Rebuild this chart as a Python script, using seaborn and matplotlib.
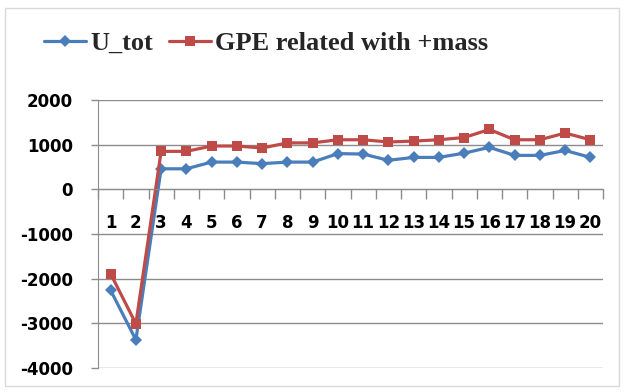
import matplotlib
matplotlib.use("Agg")
import matplotlib.pyplot as plt
from matplotlib.patches import Rectangle
import seaborn as sns
import pandas as pd

# ─────────────────────────────────────────────
# Data
# ─────────────────────────────────────────────
steps = list(range(1, 21))
u_tot = [-2260, -3370, 460, 460, 610, 610, 575, 610, 610, 800,
         790, 650, 715, 715, 810, 940, 760, 760, 870, 715]
gpe   = [-1890, -3010, 850, 850, 970, 970, 925, 1040, 1040, 1110,
         1110, 1060, 1080, 1110, 1160, 1340, 1110, 1110, 1260, 1110]
series_names = ["U_tot", "GPE related with +mass"]
y_ticks = [-4000, -3000, -2000, -1000, 0, 1000, 2000]

df = pd.DataFrame({
    "step":   steps * 2,
    "value":  u_tot + gpe,
    "series": [series_names[0]] * len(steps) + [series_names[1]] * len(steps),
})

BLUE = "#4A7EBB"
RED  = "#BE4B48"
GRID = "#8C8C8C"

sns.set_style("white", {"xtick.bottom": True, "ytick.left": True})
plt.rcParams["font.family"] = ["DejaVu Sans"]
plt.rcParams["font.weight"] = "bold"
plt.rcParams["xtick.color"] = GRID
plt.rcParams["ytick.color"] = GRID
plt.rcParams["xtick.labelcolor"] = "black"
plt.rcParams["ytick.labelcolor"] = "black"

fig = plt.figure(figsize=(6.25, 3.92), dpi=100)
ax = fig.add_axes([98/625, 1 - 368/392, 505/625, 268/392])

sns.lineplot(data=df, x="step", y="value", hue="series", style="series",
             palette={series_names[0]: BLUE, series_names[1]: RED},
             markers={series_names[0]: "D", series_names[1]: "s"},
             dashes=False, linewidth=2.3, markersize=7.5, markeredgewidth=0,
             ax=ax, legend="full")

# marker sizes per series
for line in ax.get_lines():
    if line.get_marker() == "s":
        line.set_markersize(7)
    elif line.get_marker() == "D":
        line.set_markersize(6.5)

for s in ["top", "right"]:
    ax.spines[s].set_visible(False)
ax.spines["left"].set_color(GRID)
ax.spines["bottom"].set_color(GRID)
ax.spines["bottom"].set_position(("data", 0))

ax.set_xlim(steps[0] - 0.5, steps[-1] + 0.5)
ax.set_ylim(y_ticks[0], y_ticks[-1])
ax.set_yticks(y_ticks)
ax.set_yticklabels([str(t) for t in y_ticks], fontsize=12, fontweight="bold")
ax.set_xticks(steps)
ax.set_xticklabels([str(s) for s in steps], fontsize=12, fontweight="bold")
ax.set_xticks([s - 0.5 for s in steps] + [steps[-1] + 0.5], minor=True)
ax.set_xlabel(""); ax.set_ylabel("")

ax.grid(axis="y", color=GRID, linewidth=1)
ax.grid(axis="x", visible=False)

ax.tick_params(axis="y", which="major", left=True, length=5, width=1, color=GRID, pad=13, direction="out")
ax.tick_params(axis="x", which="major", bottom=True, length=0, pad=18)
ax.tick_params(axis="x", which="minor", bottom=True, length=7, width=1, color=GRID, direction="out")

# legend on top
handles, labels = ax.get_legend_handles_labels()
ax.legend_.remove()
for h in handles:
    h.set_linewidth(2.3)
leg = fig.legend(handles, labels, loc="center", bbox_to_anchor=(266/625, 1 - 43/392),
                 bbox_transform=fig.transFigure, ncol=2, frameon=False,
                 handlelength=1.6, handletextpad=0.15, columnspacing=0.6,
                 prop={"family": "Liberation Serif", "weight": "bold", "size": 19})

# light outer chart border
fig.patches.append(Rectangle((5/625, 1 - 386/392), 614/625, 378/392, transform=fig.transFigure,
                             fill=False, edgecolor="#D9D9D9", linewidth=1))

plt.savefig("out.png", dpi=100)
